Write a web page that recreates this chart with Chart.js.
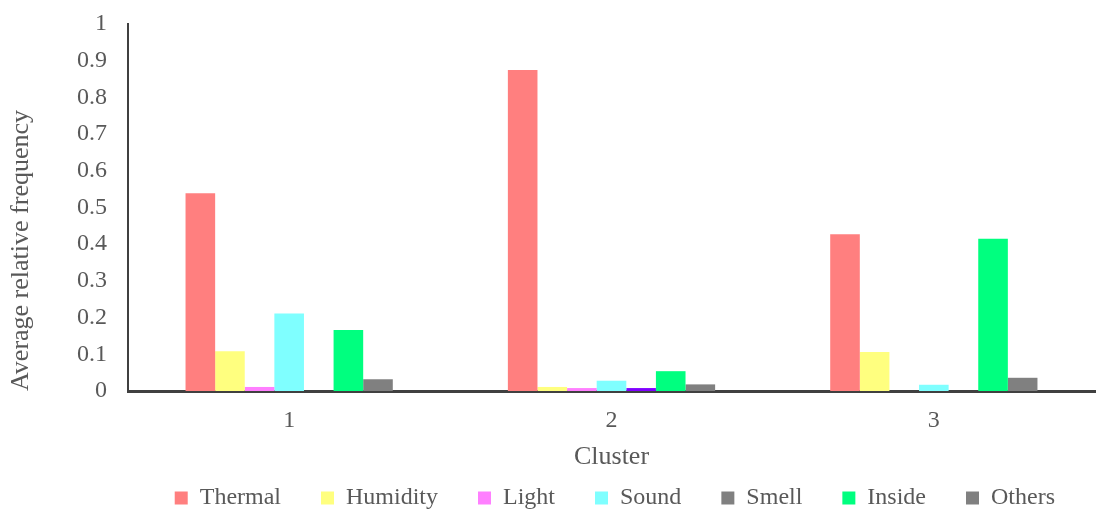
<!DOCTYPE html>
<html>
<head>
<meta charset="utf-8">
<script src="https://cdn.jsdelivr.net/npm/chart.js@4/dist/chart.umd.min.js"></script>
<style>
    html, body { margin: 0; padding: 0; background: #fff; }
    #wrap { width: 1099px; height: 512px; }
</style>
</head>
<body>
<div id="wrap"><canvas id="chart"></canvas></div>
<script>
const clusters = ["1", "2", "3"];

const thermal  = [0.539, 0.875, 0.427];
const humidity = [0.108, 0.011, 0.106];
const light    = [0.011, 0.008, 0];
const sound    = [0.211, 0.028, 0.017];
const smell    = [0, 0.008, 0];
const inside   = [0.166, 0.054, 0.415];
const others   = [0.032, 0.018, 0.036];

const seriesNames = ["Thermal", "Humidity", "Light", "Sound", "Smell", "Inside", "Others"];
const seriesValues = [thermal, humidity, light, sound, smell, inside, others];
const seriesColors = ["#FF7F7F", "#FFFF7F", "#FF7FFF", "#7FFFFF", "#808080", "#00FF7F", "#808080"];

const textColor = "#595959";
const axisColor = "#404040";
const serif = "'Liberation Serif', 'DejaVu Serif', serif";

let datasets = seriesNames.map(function (name, i) {
    let bg = seriesColors[i];
    // smell bar in cluster 2 is drawn in violet
    if (name === "Smell") bg = ["#808080", "#7F00FF", "#808080"];
    return {
        label: name,
        data: seriesValues[i],
        backgroundColor: bg,
        borderWidth: 0
    };
});

let ctx = document.getElementById("chart").getContext("2d");

let chartInstance = new Chart(ctx, {
    type: "bar",
    data: {
        labels: clusters,
        datasets: datasets
    },
    options: {
        responsive: true,
        maintainAspectRatio: false,
        animation: false,
        layout: {
            // legend padding is wide, let its box run a bit past the bottom edge
            padding: { top: 0, right: 4, left: 0, bottom: -8 }
        },
        datasets: {
            bar: { barPercentage: 1.0, categoryPercentage: 0.643 }
        },
        plugins: {
            tooltip: { enabled: false },
            legend: {
                position: "bottom",
                align: "end",
                labels: {
                    color: textColor,
                    font: { family: serif, size: 24 },
                    boxWidth: 13,
                    boxHeight: 13,
                    padding: 40,
                    generateLabels: function (chart) {
                        return chart.data.datasets.map(function (ds, i) {
                            return {
                                text: ds.label,
                                fillStyle: seriesColors[i],
                                strokeStyle: seriesColors[i],
                                lineWidth: 0,
                                fontColor: textColor,
                                datasetIndex: i
                            };
                        });
                    }
                }
            }
        },
        scales: {
            x: {
                grid: { display: false },
                border: { display: true, color: axisColor, width: 3 },
                ticks: {
                    color: textColor,
                    font: { family: serif, size: 24 },
                    padding: 7
                },
                title: {
                    display: true,
                    text: "Cluster",
                    color: textColor,
                    font: { family: serif, size: 26 },
                    padding: { top: 0, bottom: -27 }
                },
                afterFit: function (scale) { scale.height = 55; }
            },
            y: {
                min: 0,
                max: 1,
                grid: { display: false },
                border: { display: true, color: axisColor, width: 2 },
                ticks: {
                    stepSize: 0.1,
                    autoSkip: false,
                    color: textColor,
                    font: { family: serif, size: 24 },
                    padding: 13,
                    callback: function (v) { return Math.round(v * 10) / 10; }
                },
                title: {
                    display: true,
                    text: "Average relative frequency",
                    align: "start",
                    color: textColor,
                    font: { family: serif, size: 26 },
                    padding: { top: 6, bottom: 0 }
                },
                afterFit: function (scale) {
                    scale.width = 128;
                    scale.paddingTop = 24;
                }
            }
        }
    }
});
</script>
</body>
</html>
